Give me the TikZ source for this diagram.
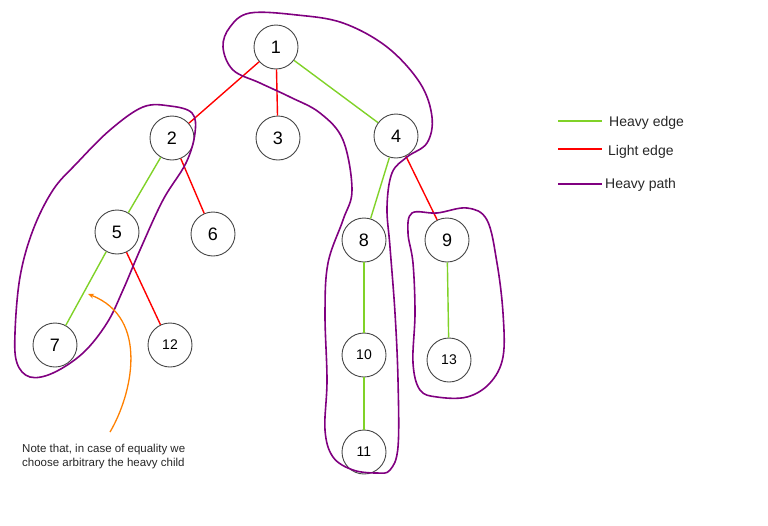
\documentclass[tikz,border=0pt]{standalone}
\usepackage{fontspec}
\setmainfont{Liberation Sans}
\usetikzlibrary{arrows.meta}
\definecolor{heavy}{RGB}{128,210,40}
\definecolor{light}{RGB}{255,0,0}
\definecolor{hpath}{RGB}{128,0,128}
\definecolor{note}{RGB}{255,128,0}
\definecolor{ring}{RGB}{70,70,70}
\begin{document}
\begin{tikzpicture}[x=1pt,y=-1pt,
  vert/.style={circle,draw=ring,line width=0.9pt,minimum size=44pt,inner sep=0pt,font=\fontsize{18}{20}\selectfont},
  vsmall/.style={vert,font=\fontsize{14}{16}\selectfont},
  hedge/.style={draw=heavy,line width=1.4pt},
  ledge/.style={draw=light,line width=1.4pt},
  ploop/.style={draw=hpath,line width=1.6pt},
  legtext/.style={anchor=base west,font=\fontsize{14}{16}\selectfont,text=black!85,inner sep=0pt},
  notetext/.style={anchor=base west,font=\fontsize{11.5}{14}\selectfont,text=black!85,inner sep=0pt}
]
\useasboundingbox (0,0) rectangle (768,525);

% nodes
\node[vert] (n1) at (276,47) {1};
\node[vert] (n2) at (172,138) {2};
\node[vert] (n3) at (278,138) {3};
\node[vert] (n4) at (396,136) {4};
\node[vert] (n5) at (117,232) {5};
\node[vert] (n6) at (213,234) {6};
\node[vert] (n7) at (55,345) {7};
\node[vsmall] (n12) at (170,345) {12};
\node[vert] (n8) at (364,240) {8};
\node[vert] (n9) at (447,240) {9};
\node[vsmall] (n10) at (364,355) {10};
\node[vsmall] (n13) at (449,360) {13};
\node[vsmall] (n11) at (364,452) {11};

% edges
\draw[ledge] (n1) -- (n2);
\draw[ledge] (n1) -- (n3);
\draw[hedge] (n1) -- (n4);
\draw[hedge] (n2) -- (n5);
\draw[ledge] (n2) -- (n6);
\draw[hedge] (n5) -- (n7);
\draw[ledge] (n5) -- (n12);
\draw[hedge] (n4) -- (n8);
\draw[ledge] (n4) -- (n9);
\draw[hedge] (n8) -- (n10);
\draw[hedge] (n10) -- (n11);
\draw[hedge] (n9) -- (n13);

% heavy path loops
\draw[ploop] plot[smooth cycle,tension=0.6] coordinates {
  (143,107) (170,106) (192,113) (195,133) (186,163) (163,200) (140,250)
  (123,290) (107,323) (83,353) (53,373) (30,377) (17,363) (15,333)
  (20,277) (33,230) (53,190) (77,163) (110,130)};
\draw[ploop] plot[smooth cycle,tension=0.6] coordinates {
  (250,13) (297,15) (343,23) (387,47) (420,83) (432,117) (427,143)
  (407,157) (392,173) (387,207) (390,247) (395,313) (398,380) (398,447)
  (390,470) (377,473) (353,470) (333,457) (325,430) (327,380) (325,313)
  (328,263) (343,220) (352,190) (343,140) (320,113) (290,97) (260,83)
  (233,70) (223,47) (230,27)};
\draw[ploop] plot[smooth cycle,tension=0.6] coordinates {
  (412,213) (437,213) (467,208) (487,220) (497,263) (503,313) (503,357)
  (490,383) (467,397) (437,397) (420,390) (413,363) (415,313) (413,263)
  (408,233)};

% note
\node[notetext] (note1) at (22,452.5) {Note that, in case of equality we};
\node[notetext] (note2) at (22,466) {choose arbitrary the heavy child};
\coordinate (arrs) at (110,432);
\coordinate (arre) at (88,294);
\draw[draw=note,line width=1.3pt,-{Stealth[length=6pt,width=5pt]}] (arrs) .. controls (132,395) and (150,318) .. (arre);

% legend
\coordinate (lg1a) at (558,121); \coordinate (lg1b) at (602,121);
\coordinate (lg2a) at (558,149); \coordinate (lg2b) at (602,149);
\coordinate (lg3a) at (558,184); \coordinate (lg3b) at (602,184);
\draw[hedge,line width=2pt] (lg1a) -- (lg1b);
\draw[ledge,line width=2pt] (lg2a) -- (lg2b);
\draw[ploop,line width=2.2pt] (lg3a) -- (lg3b);
\node[legtext] (t1) at (609,126) {Heavy edge};
\node[legtext] (t2) at (608,155) {Light edge};
\node[legtext] (t3) at (605,188) {Heavy path};
\end{tikzpicture}
\end{document}
